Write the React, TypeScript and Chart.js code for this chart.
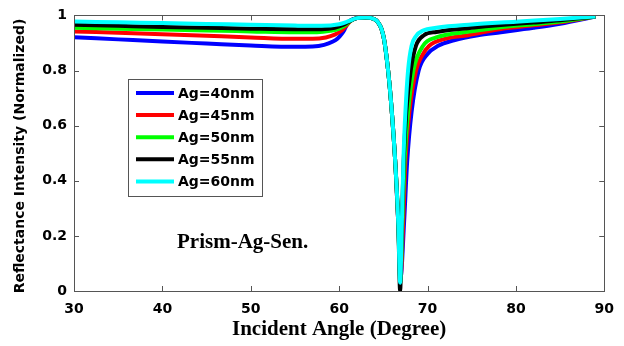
import React, { useEffect, useRef } from 'react';
import { Chart, registerables } from 'chart.js';

Chart.register(...registerables);

// Tick values
const xTicks = [30, 40, 50, 60, 70, 80, 90];
const yTicks = [0, 0.2, 0.4, 0.6, 0.8, 1];

// Series labels & colours
const seriesLabels = ['Ag=40nm', 'Ag=45nm', 'Ag=50nm', 'Ag=55nm', 'Ag=60nm'];
const seriesColors = ['#0000ff', '#ff0000', '#00ff00', '#000000', '#00ffff'];

// Ag = 40 nm
const ag40Angle = [30, 35, 40, 45, 50, 55, 57, 58.3, 59.3, 59.8, 60.3, 60.6, 60.9, 61.3, 62, 63, 64, 64.4, 64.8, 65.1, 65.4, 65.7, 66.1, 66.4, 66.7, 66.95, 67.35, 67.7, 68.2, 69.0, 70.0, 71.2, 73, 75.7, 78.3, 82, 85, 89];
const ag40R = [0.921, 0.913, 0.905, 0.898, 0.891, 0.886, 0.887, 0.893, 0.905, 0.915, 0.933, 0.948, 0.968, 0.982, 0.99, 0.992, 0.986, 0.975, 0.95, 0.91, 0.84, 0.75, 0.59, 0.44, 0.24, 0.05, 0.25, 0.47, 0.65, 0.8, 0.86, 0.89, 0.91, 0.928, 0.939, 0.955, 0.97, 0.996];

// Ag = 45 nm
const ag45Angle = [30, 35, 40, 45, 50, 55, 57, 58.5, 59.5, 60.3, 60.8, 61.3, 62, 63, 64, 64.4, 64.8, 65.1, 65.4, 65.7, 66.1, 66.4, 66.7, 66.93, 67.25, 67.5, 67.95, 68.7, 69.4, 70.2, 72, 74.6, 78.3, 82, 85, 89];
const ag45R = [0.942, 0.937, 0.932, 0.926, 0.92, 0.915, 0.915, 0.92, 0.93, 0.945, 0.962, 0.98, 0.99, 0.992, 0.986, 0.975, 0.95, 0.91, 0.84, 0.75, 0.59, 0.44, 0.24, 0.04, 0.25, 0.47, 0.65, 0.8, 0.855, 0.89, 0.915, 0.928, 0.951, 0.964, 0.975, 0.996];

// Ag = 50 nm
const ag50Angle = [30, 35, 40, 45, 50, 55, 57.5, 59, 60, 60.7, 61.3, 62, 63, 64, 64.4, 64.8, 65.1, 65.4, 65.7, 66.1, 66.4, 66.7, 66.92, 67.15, 67.4, 67.8, 68.4, 69.5, 71, 75, 78.3, 82, 85, 89];
const ag50R = [0.955, 0.952, 0.949, 0.945, 0.942, 0.939, 0.939, 0.944, 0.952, 0.965, 0.98, 0.99, 0.992, 0.986, 0.975, 0.95, 0.91, 0.84, 0.75, 0.59, 0.44, 0.24, 0.03, 0.25, 0.47, 0.65, 0.8, 0.89, 0.92, 0.942, 0.957, 0.968, 0.978, 0.996];

// Ag = 55 nm
const ag55Angle = [30, 35, 40, 45, 50, 55, 58, 59.5, 60.5, 61.3, 62, 63, 64, 64.4, 64.8, 65.1, 65.4, 65.7, 66.1, 66.4, 66.7, 66.9, 67.1, 67.3, 67.6, 68.1, 68.7, 69.6, 71, 75, 78.3, 82, 85, 89];
const ag55R = [0.966, 0.962, 0.958, 0.955, 0.952, 0.95, 0.95, 0.955, 0.966, 0.981, 0.99, 0.992, 0.986, 0.975, 0.95, 0.91, 0.84, 0.75, 0.59, 0.44, 0.24, 0.0, 0.25, 0.47, 0.65, 0.8, 0.89, 0.928, 0.94, 0.955, 0.965, 0.974, 0.982, 0.996];

// Ag = 60 nm
const ag60Angle = [30, 35, 40, 45, 50, 55, 58, 60, 61, 62, 63, 64, 64.4, 64.8, 65.1, 65.4, 65.7, 66.1, 66.4, 66.7, 66.9, 67.1, 67.3, 67.5, 67.8, 68.2, 68.7, 69.5, 71, 75, 80, 85, 89];
const ag60R = [0.978, 0.975, 0.972, 0.969, 0.966, 0.963, 0.962, 0.968, 0.978, 0.99, 0.992, 0.986, 0.975, 0.95, 0.91, 0.84, 0.75, 0.59, 0.44, 0.24, 0.03, 0.25, 0.5, 0.65, 0.8, 0.89, 0.925, 0.945, 0.955, 0.967, 0.977, 0.987, 0.996];

const seriesAngles = [ag40Angle, ag45Angle, ag50Angle, ag55Angle, ag60Angle];
const seriesValues = [ag40R, ag45R, ag50R, ag55R, ag60R];

const xTitle = 'Incident Angle (Degree)';
const yTitle = 'Reflectance Intensity (Normalized)';
const noteText = 'Prism-Ag-Sen.';

const decorPlugin = {
  id: 'matlabDecor',
  afterDraw(chart: any) {
    const { ctx, chartArea: a, scales } = chart;
    const xs = scales.x;
    const ys = scales.y;
    ctx.save();
    // Box
    ctx.strokeStyle = '#555555';
    ctx.lineWidth = 1;
    ctx.strokeRect(Math.round(a.left) + 0.5, Math.round(a.top) + 0.5, Math.round(a.right - a.left), Math.round(a.bottom - a.top));
    // Inward ticks
    ctx.beginPath();
    xTicks.forEach((v) => {
      const px = Math.round(xs.getPixelForValue(v)) + 0.5;
      ctx.moveTo(px, a.bottom);
      ctx.lineTo(px, a.bottom - 5);
      ctx.moveTo(px, a.top);
      ctx.lineTo(px, a.top + 5);
    });
    yTicks.forEach((v) => {
      const py = Math.round(ys.getPixelForValue(v)) + 0.5;
      ctx.moveTo(a.left, py);
      ctx.lineTo(a.left + 5, py);
      ctx.moveTo(a.right, py);
      ctx.lineTo(a.right - 5, py);
    });
    ctx.stroke();

    // Legend
    const lx = 128.5, ly = 79.5, lw = 134, lh = 117;
    ctx.fillStyle = '#ffffff';
    ctx.fillRect(lx, ly, lw, lh);
    ctx.strokeStyle = '#555555';
    ctx.lineWidth = 1;
    ctx.strokeRect(lx, ly, lw, lh);
    ctx.font = 'bold 14px "DejaVu Sans"';
    ctx.textBaseline = 'middle';
    ctx.textAlign = 'left';
    seriesLabels.forEach((lab, i) => {
      const cy = 93 + i * 22.1;
      ctx.strokeStyle = seriesColors[i];
      ctx.lineWidth = 4;
      ctx.beginPath();
      ctx.moveTo(136, cy);
      ctx.lineTo(174, cy);
      ctx.stroke();
      ctx.fillStyle = '#000000';
      ctx.fillText(lab, 178, cy + 1);
    });

    // Annotation
    ctx.font = 'bold 21px "Liberation Serif"';
    ctx.fillStyle = '#000000';
    ctx.fillText(noteText, 177, 243);

    // Axis titles
    ctx.textAlign = 'center';
    ctx.fillText(xTitle, (a.left + a.right) / 2, 330);
    ctx.save();
    ctx.translate(20, 156);
    ctx.rotate(-Math.PI / 2);
    ctx.font = 'bold 14px "DejaVu Sans"';
    ctx.fillText(yTitle, 0, 0);
    ctx.restore();

    ctx.restore();
  },
};

export default function App() {
  const canvasRef = useRef<HTMLCanvasElement | null>(null);

  useEffect(() => {
    if (!canvasRef.current) return;
    const datasets = seriesLabels.map((label, i) => ({
      label,
      data: seriesAngles[i].map((x, j) => ({ x, y: seriesValues[i][j] })),
      borderColor: seriesColors[i],
      backgroundColor: seriesColors[i],
      borderWidth: 4,
      pointRadius: 0,
      fill: false,
      cubicInterpolationMode: 'monotone' as const,
      order: seriesLabels.length - i,
    }));
    const chart = new Chart(canvasRef.current, {
      type: 'line',
      data: { datasets },
      options: {
        animation: false,
        responsive: false,
        maintainAspectRatio: false,
        layout: { padding: { top: 13, right: 14, left: 0, bottom: 0 } },
        plugins: {
          legend: { display: false },
          tooltip: { enabled: false },
        },
        scales: {
          x: {
            type: 'linear',
            min: 30,
            max: 90,
            afterBuildTicks: (scale: any) => {
              scale.ticks = xTicks.map((v) => ({ value: v }));
            },
            afterFit: (scale: any) => {
              scale.height = 55;
            },
            grid: { display: false, drawTicks: false },
            border: { display: false },
            ticks: {
              padding: 10,
              color: '#000000',
              font: { family: 'DejaVu Sans', size: 14, weight: 'bold' },
              maxRotation: 0,
              autoSkip: false,
            },
          },
          y: {
            type: 'linear',
            min: 0,
            max: 1,
            afterBuildTicks: (scale: any) => {
              scale.ticks = yTicks.map((v) => ({ value: v }));
            },
            afterFit: (scale: any) => {
              scale.width = 74;
            },
            grid: { display: false, drawTicks: false },
            border: { display: false },
            ticks: {
              padding: 7,
              color: '#000000',
              font: { family: 'DejaVu Sans', size: 14, weight: 'bold' },
              autoSkip: false,
              callback: (v: any) => String(Math.round(Number(v) * 10) / 10),
            },
          },
        },
      },
      plugins: [decorPlugin],
    });
    return () => chart.destroy();
  }, []);

  return (
    <div style={{ position: 'fixed', left: 0, top: 0, width: 624, height: 346, background: '#ffffff' }}>
      <canvas ref={canvasRef} width={624} height={346} style={{ display: 'block', width: 624, height: 346 }} />
    </div>
  );
}
